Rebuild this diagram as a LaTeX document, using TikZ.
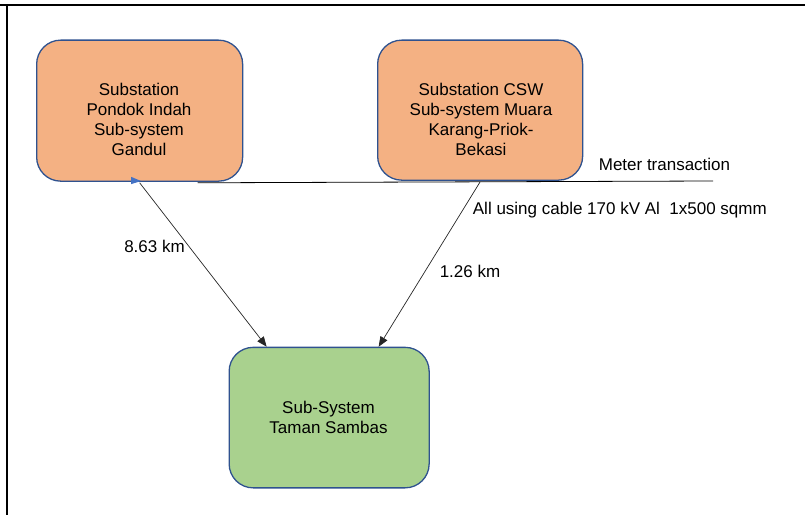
\documentclass[tikz,border=0pt]{standalone}
\usepackage{fontspec}
\setmainfont{Liberation Sans}
\usetikzlibrary{arrows.meta,calc}
\definecolor{boxorange}{HTML}{F4B183}
\definecolor{boxgreen}{HTML}{A9D18E}
\definecolor{boxline}{HTML}{2F528F}
\definecolor{tipblue}{HTML}{4472C4}
\tikzset{
  stationbox/.style={draw=boxline, line width=1.3bp, rounded corners=24bp,
    minimum width=#1, inner sep=0pt, anchor=north west},
  boxtext/.style={inner sep=0pt, align=center, anchor=north,
    font=\fontsize{17bp}{20bp}\selectfont},
  plaintext/.style={inner sep=0pt, font=\fontsize{17bp}{20bp}\selectfont},
  feeder/.style={line width=0.7bp, draw=black!85,
    -{Triangle[length=10bp,width=8bp]}},
  frame/.style={line width=2bp, draw=black}
}
\begin{document}
\begin{tikzpicture}[x=1bp, y=-1bp]
\useasboundingbox (0,0) rectangle (805,515);

% page frame
\draw[frame] (0,5) -- (805,5);
\draw[frame] (7,5) -- (7,515);

% substations
\node[stationbox=206bp, fill=boxorange, minimum height=141bp] (pondok) at (36,39.5) {};
\node[stationbox=205bp, fill=boxorange, minimum height=140bp] (csw) at (377,39.5) {};
\node[stationbox=200bp, fill=boxgreen, minimum height=140.5bp] (sambas) at (228.5,346.7) {};

\node[boxtext] (pondoktxt) at (139,82.8) {Substation\\Pondok Indah\\Sub-system\\Gandul};
\node[boxtext] (csw txt) at (481,82.8) {Substation CSW\\Sub-system Muara\\Karang-Priok-\\Bekasi};
\node[boxtext] (sambastxt) at (328.5,401.3) {Sub-System\\Taman Sambas};

% metering bus
\coordinate (meterA) at ($(pondok.south)+(58,1)$);
\coordinate (meterB) at (713,181);
\draw[line width=0.8bp] (meterA) -- (meterB);
\node[plaintext, anchor=base] (metertxt) at (664.5,170.7) {Meter transaction};
\node[plaintext, anchor=base west] (cabletxt) at (472.7,215) {All using cable 170 kV Al\ \ 1x500 sqmm};

% cable runs
\coordinate (pondokout) at ($(pondok.south)+(0,1)$);
\coordinate (cswout) at ($(csw.south)+(0,1)$);
\coordinate (sambasinA) at ($(sambas.north)+(-62.5,0)$);
\coordinate (sambasinB) at ($(sambas.north)+(49.5,0)$);
\draw[feeder] (pondokout) -- (sambasinA);
\draw[feeder] (cswout) -- (sambasinB);
\fill[tipblue] (131,176.8) -- (141,181) -- (131,184.2) -- cycle;

\node[plaintext, anchor=base] (lenA) at (154.5,252.7) {8.63 km};
\node[plaintext, anchor=base] (lenB) at (470,277.7) {1.26 km};
\end{tikzpicture}
\end{document}
